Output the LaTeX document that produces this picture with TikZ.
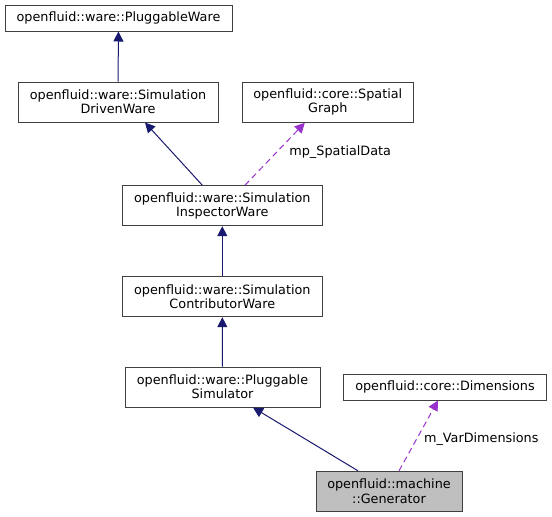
\documentclass[tikz,border=0pt]{standalone}
\usepackage{fontspec}
\setmainfont{DejaVu Sans}
\usetikzlibrary{arrows.meta,calc}
\definecolor{navy}{RGB}{25,25,112}
\definecolor{orchid}{RGB}{153,50,204}
\definecolor{boxline}{RGB}{64,64,64}
\begin{document}
\begin{tikzpicture}[x=1pt,y=1pt,
  cls/.style={draw=boxline,line width=1pt,fill=white,inner sep=0pt,align=center,
    font=\fontsize{12.8}{14.3}\selectfont},
  lbl/.style={font=\fontsize{12.8}{14.3}\selectfont,inner sep=0pt,text=black},
  inh/.style={navy,line width=1pt,-{Triangle[length=10pt,width=10pt]}},
  usg/.style={orchid,line width=1pt,dash pattern=on 6pt off 4pt,-{Triangle[length=10pt,width=10pt]}}]
\useasboundingbox[fill=white] (0,0) rectangle (552,-517);
\node[cls,minimum width=227pt,minimum height=26pt] (PW) at (118.5,-18) {openfluid::ware::PluggableWare};
\node[cls,minimum width=200pt,minimum height=40pt] (SDW) at (118,-102) {openfluid::ware::Simulation\\DrivenWare};
\node[cls,minimum width=171pt,minimum height=40pt] (SG) at (327.8,-102.3) {openfluid::core::Spatial\\Graph};
\node[cls,minimum width=200pt,minimum height=40pt] (SIW) at (222.3,-205.7) {openfluid::ware::Simulation\\InspectorWare};
\node[cls,minimum width=200pt,minimum height=40pt] (SCW) at (222.3,-296.7) {openfluid::ware::Simulation\\ContributorWare};
\node[cls,minimum width=195pt,minimum height=40pt] (PS) at (222.5,-387) {openfluid::ware::Pluggable\\Simulator};
\node[cls,minimum width=203pt,minimum height=26pt] (DIM) at (445,-387) {openfluid::core::Dimensions};
\node[cls,fill={rgb,255:red,191;green,191;blue,191},minimum width=146pt,minimum height=40pt] (GEN) at (389,-491.3) {openfluid::machine\\::Generator};

\draw[inh] (SDW.north) -- (PW.south);
\draw[inh] ($(SIW.north)+(-20,0)$) -- ($(SDW.south)+(27,0)$);
\draw[usg] ($(SIW.north)+(22.7,0)$) -- node[lbl,pos=0.5,right=14pt,yshift=2pt] (L1) {mp\_SpatialData} ($(SG.south)+(-23,0)$);
\draw[inh] (SCW.north) -- (SIW.south);
\draw[inh] (PS.north) -- (SCW.south);
\draw[inh] ($(GEN.north)+(-31,0)$) -- ($(PS.south)+(30.5,0)$);
\draw[usg] ($(GEN.north)+(10,0)$) -- node[lbl,pos=0.45,right=7pt] (L2) {m\_VarDimensions} ($(DIM.south)+(-7,0)$);
\end{tikzpicture}
\end{document}
